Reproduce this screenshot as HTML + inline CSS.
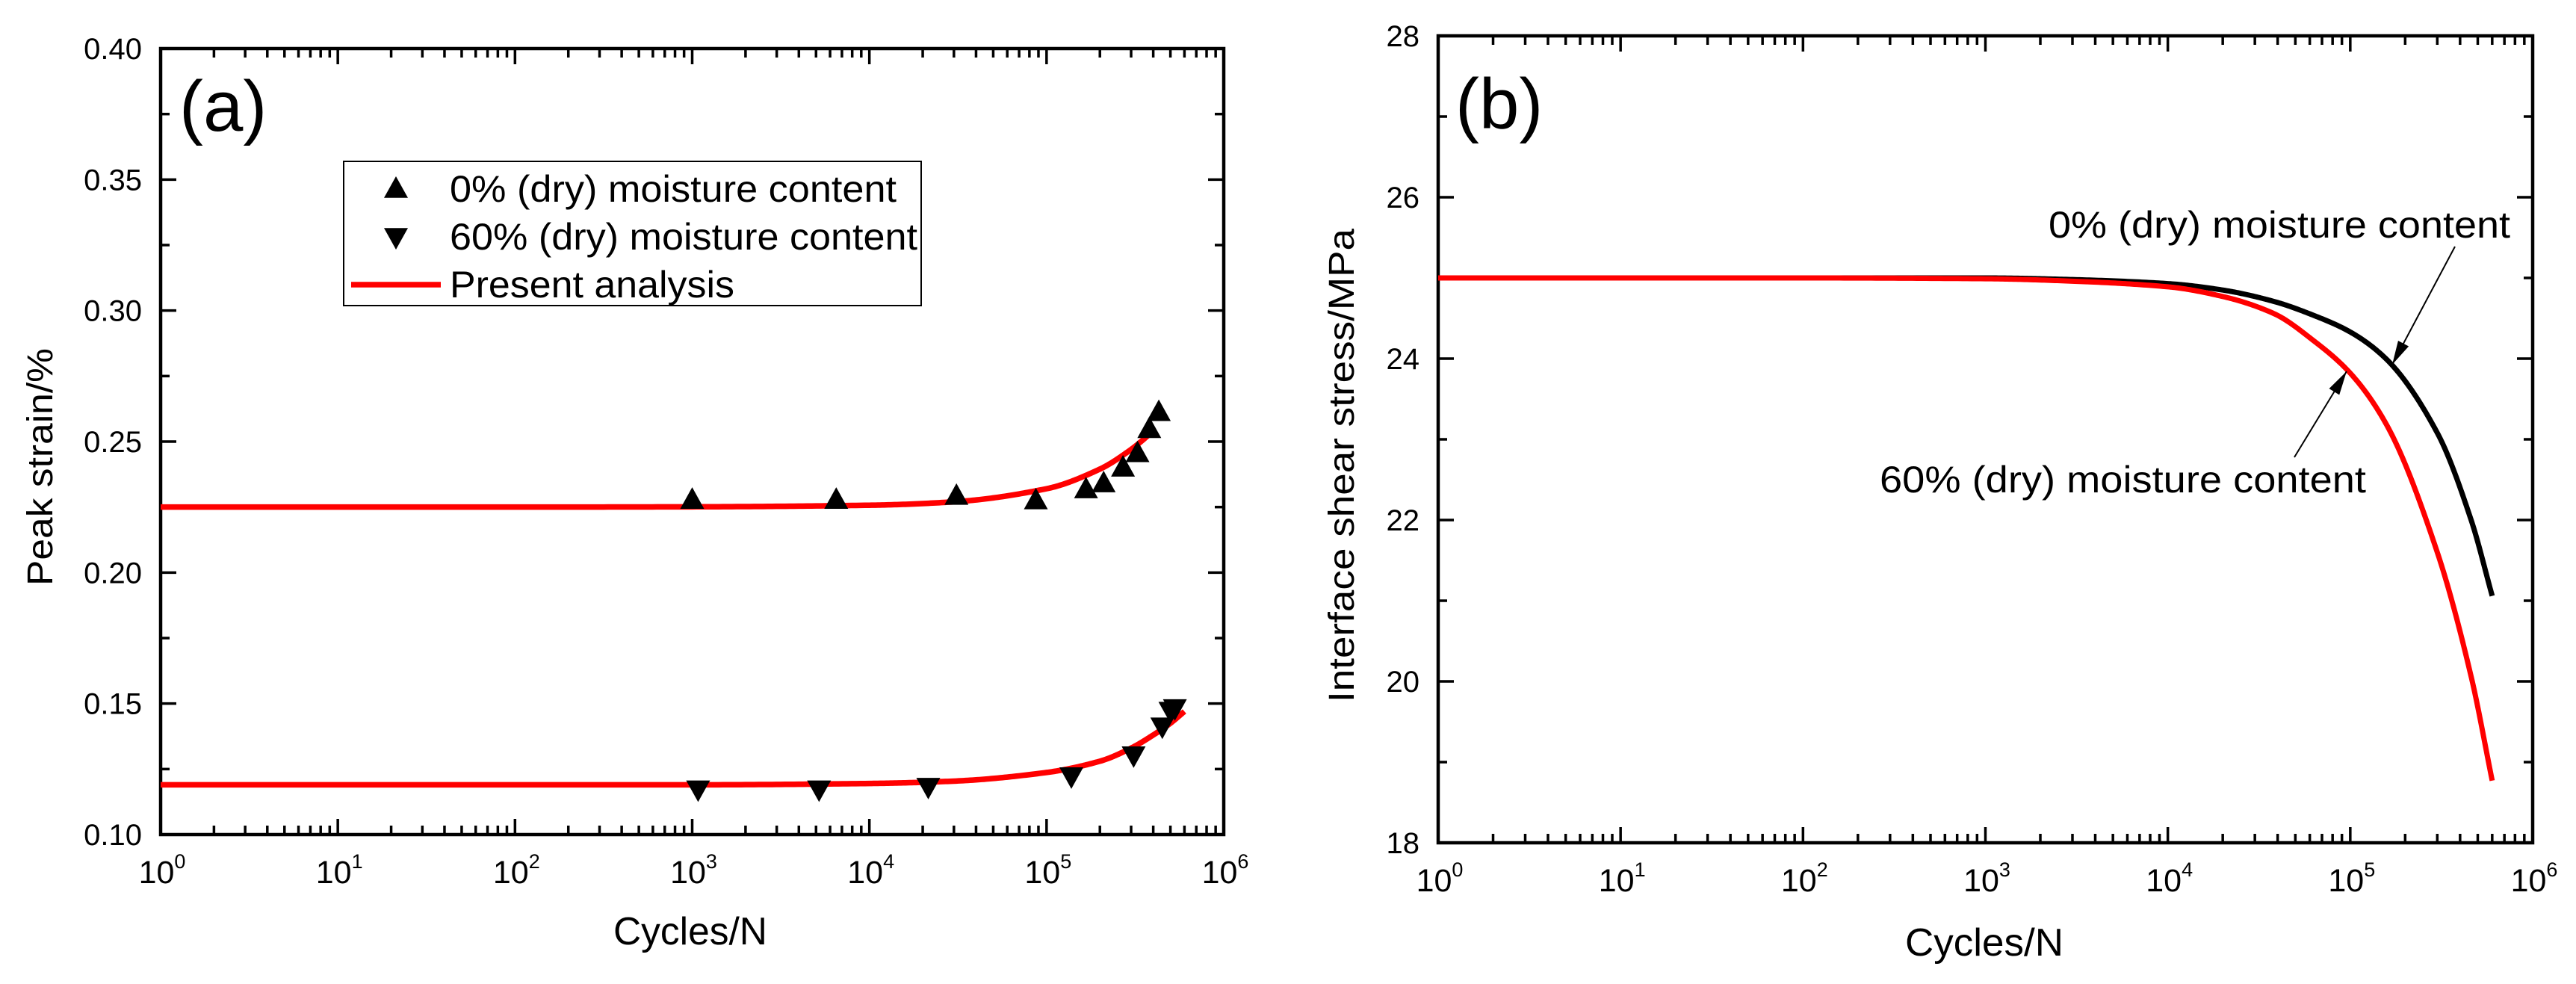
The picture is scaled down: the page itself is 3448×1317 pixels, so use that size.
<!DOCTYPE html>
<html><head><meta charset="utf-8"><style>
html,body{margin:0;padding:0;background:#fff;}
svg{display:block;font-family:"Liberation Sans",Arial,sans-serif;}
</style></head><body>
<svg id="chart" width="3448" height="1317" viewBox="0 0 3448 1317" xmlns="http://www.w3.org/2000/svg">
<rect width="3448" height="1317" fill="#fff"/>
<g id="pa"></g>
<g id="pb"></g>
</svg>
<script>
// ---- Panel (a) data ----
const upN = [1000, 6500, 31000, 87000, 167000, 210000, 270000, 326000, 380000, 430000];
const upY = [0.228, 0.228, 0.2295, 0.2278, 0.232, 0.2343, 0.2403, 0.2458, 0.255, 0.2615];
const dnN = [1080, 5200, 21500, 138000, 310000, 450000, 500000, 530000];
const dnY = [0.117, 0.117, 0.118, 0.122, 0.130, 0.141, 0.147, 0.148];
const fitUpN = [1, 100, 1000, 10000, 30000, 100000, 200000, 300000, 400000];
const fitUpY = [0.225, 0.225, 0.2251, 0.2257, 0.227, 0.232, 0.2395, 0.247, 0.254];
const fitDnN = [1, 100, 1000, 10000, 30000, 100000, 200000, 300000, 400000, 500000, 600000];
const fitDnY = [0.119, 0.119, 0.119, 0.1195, 0.1204, 0.1237, 0.128, 0.133, 0.138, 0.1425, 0.147];
const aYTicks = ["0.10","0.15","0.20","0.25","0.30","0.35","0.40"];
// ---- Panel (b) data ----
const bN = [1, 100, 1000, 3000, 10000, 20000, 38000, 64000, 100000, 160000, 300000, 460000, 600000];
const bDry = [25.0, 25.0, 25.0, 24.98, 24.93, 24.85, 24.71, 24.53, 24.33, 23.98, 23.08, 22.0, 21.06];
const bWet = [25.0, 25.0, 24.99, 24.96, 24.89, 24.77, 24.56, 24.21, 23.82, 23.16, 21.6, 20.06, 18.77];
const bYTicks = ["18","20","22","24","26","28"];
const xExps = ["0","1","2","3","4","5","6"];

const NS = "http://www.w3.org/2000/svg";
function mk(parent, tag, attrs, text) {
  const e = document.createElementNS(NS, tag);
  for (const k in attrs) e.setAttribute(k, attrs[k]);
  if (text !== undefined) e.textContent = text;
  parent.appendChild(e);
  return e;
}
// monotone cubic interpolation in (log10 N, y), sampled densely
function monoPath(nArr, yArr, xs, ys) {
  const X = nArr.map(v => Math.log10(v)), Y = yArr.slice(), n = X.length;
  const d = [], m = new Array(n);
  for (let i = 0; i < n - 1; i++) d.push((Y[i + 1] - Y[i]) / (X[i + 1] - X[i]));
  m[0] = d[0]; m[n - 1] = d[n - 2];
  for (let i = 1; i < n - 1; i++) m[i] = (d[i - 1] * d[i] <= 0) ? 0 : 2 / (1 / d[i - 1] + 1 / d[i]);
  let path = "";
  for (let i = 0; i < n - 1; i++) {
    const h = X[i + 1] - X[i];
    const steps = 40;
    for (let s = (i === 0 ? 0 : 1); s <= steps; s++) {
      const t = s / steps, t2 = t * t, t3 = t2 * t;
      const y = (2 * t3 - 3 * t2 + 1) * Y[i] + (t3 - 2 * t2 + t) * h * m[i] + (-2 * t3 + 3 * t2) * Y[i + 1] + (t3 - t2) * h * m[i + 1];
      const x = X[i] + t * h;
      const px = xs(Math.pow(10, x)), py = ys(y);
      path += (path ? " L" : "M") + px.toFixed(2) + "," + py.toFixed(2);
    }
  }
  return path;
}
function axes(g, L, R, T, B, ymin, ymax, ystep, yTicks, labelRight, name) {
  const xs = v => L + (R - L) * Math.log10(v) / 6;
  const ys = v => B - (B - T) * (v - ymin) / (ymax - ymin);
  const tk = mk(g, "g", {stroke: "#000", "stroke-width": 3.5});
  
  
  for (let d = 0; d < 6; d++) {
    for (let m = 1; m < 10; m++) {
      const x = xs(Math.pow(10, d) * m);
      const len = m === 1 ? 21 : 12;
      mk(tk, "line", {x1: x, y1: B, x2: x, y2: B - len});
      mk(tk, "line", {x1: x, y1: T, x2: x, y2: T + len});
    }
  }
  const n = yTicks.length;
  for (let i = 0; i < (n - 1) * 2 + 1; i++) {
    const v = ymin + i * ystep / 2;
    const y = ys(v);
    const len = i % 2 === 0 ? 21 : 12;
    mk(tk, "line", {x1: L, y1: y, x2: L + len, y2: y});
    mk(tk, "line", {x1: R, y1: y, x2: R - len, y2: y});
  }
  const fr = mk(g, "rect", {x: L, y: T, width: R - L, height: B - T, fill: "none", stroke: "#000", "stroke-width": 4.5});
  
  
  yTicks.forEach((t, i) => {
    const el = mk(g, "text", {x: labelRight, y: ys(ymin + i * ystep) + 14, "text-anchor": "end", "font-size": 40}, t);
    
    
  });
  xExps.forEach((e, i) => {
    const x = L + (R - L) * i / 6;
    const el = mk(g, "text", {x: x + 2, y: B + 65, "text-anchor": "middle", "font-size": 43});
    
    
    mk(el, "tspan", {}, "10");
    mk(el, "tspan", {"font-size": 27, dy: -20}, e);
  });
  return {xs, ys};
}
function tri(g, x, y, up, name) {
  const s = 16;
  const pts = up ? [[x, y - s], [x - s, y + s * 0.8], [x + s, y + s * 0.8]] : [[x, y + s], [x - s, y - s * 0.8], [x + s, y - s * 0.8]];
  const p = mk(g, "polygon", {points: pts.map(q => q.join(",")).join(" "), fill: "#000"});
  
  
}

// ---- Panel a ----
const ga = document.getElementById("pa");
const A = axes(ga, 215, 1638, 65, 1117, 0.10, 0.40, 0.05, aYTicks, 190, "a");
[[fitUpN, fitUpY, "fit-curve-dry"], [fitDnN, fitDnY, "fit-curve-wet"]].forEach(([nx, ny, nm]) => {
  const p = mk(ga, "path", {d: monoPath(nx, ny, A.xs, A.ys), fill: "none", stroke: "#ff0000", "stroke-width": 7.5, "stroke-linejoin": "round"});
  
  
});
upN.forEach((v, i) => tri(ga, A.xs(v), A.ys(upY[i]), true, "point-dry"));
dnN.forEach((v, i) => tri(ga, A.xs(v), A.ys(dnY[i]), false, "point-wet"));
let t = mk(ga, "text", {x: 240, y: 175, "font-size": 96}, "(a)");
 
const lg = mk(ga, "g", {});
 
mk(lg, "rect", {x: 460, y: 216, width: 773, height: 193, fill: "#fff", stroke: "#000", "stroke-width": 2});
tri(lg, 530, 252, true, "legend-marker-dry");
tri(lg, 530, 318, false, "legend-marker-wet");
mk(lg, "line", {x1: 470, y1: 381, x2: 590, y2: 381, stroke: "#ff0000", "stroke-width": 7.5});
t = mk(lg, "text", {x: 602, y: 270, "font-size": 50, textLength: 598, lengthAdjust: "spacingAndGlyphs"}, "0% (dry) moisture content");
 
t = mk(lg, "text", {x: 602, y: 334, "font-size": 50, textLength: 626, lengthAdjust: "spacingAndGlyphs"}, "60% (dry) moisture content");
 
t = mk(lg, "text", {x: 602, y: 398, "font-size": 50, textLength: 381, lengthAdjust: "spacingAndGlyphs"}, "Present analysis");
 
t = mk(ga, "text", {x: 0, y: 0, "font-size": 48, "text-anchor": "middle", transform: "translate(70,625) rotate(-90)", textLength: 318, lengthAdjust: "spacingAndGlyphs"}, "Peak strain/%");
 
t = mk(ga, "text", {x: 924, y: 1264, "font-size": 52, "text-anchor": "middle", textLength: 206, lengthAdjust: "spacingAndGlyphs"}, "Cycles/N");
 

// ---- Panel b ----
const gb = document.getElementById("pb");
const Bx = axes(gb, 1925, 3390, 48, 1128, 18, 28, 2, bYTicks, 1900, "b");
[[bDry, "#000", "curve-dry"], [bWet, "#ff0000", "curve-wet"]].forEach(([ser, col, nm]) => {
  const p = mk(gb, "path", {d: monoPath(bN, ser, Bx.xs, Bx.ys), fill: "none", stroke: col, "stroke-width": 7, "stroke-linejoin": "round"});
  
  
});
t = mk(gb, "text", {x: 1948, y: 172, "font-size": 96}, "(b)");
 
t = mk(gb, "text", {x: 2742, y: 318, "font-size": 50, textLength: 618, lengthAdjust: "spacingAndGlyphs"}, "0% (dry) moisture content");
 
t = mk(gb, "text", {x: 2516, y: 659, "font-size": 50, textLength: 651, lengthAdjust: "spacingAndGlyphs"}, "60% (dry) moisture content");
 
function arrow(x1, y1, x2, y2, nm) {
  const g = mk(gb, "g", {});
   
  mk(g, "line", {x1, y1, x2, y2, stroke: "#000", "stroke-width": 2});
  const a = Math.atan2(y2 - y1, x2 - x1), L = 32, W = 8;
  const bx = x2 - L * Math.cos(a), by = y2 - L * Math.sin(a);
  const px = -Math.sin(a) * W, py = Math.cos(a) * W;
  mk(g, "polygon", {points: `${x2},${y2} ${bx + px},${by + py} ${bx - px},${by - py}`, fill: "#000"});
}
arrow(3286, 330, 3202, 488, "arrow-dry");
arrow(3071, 612, 3141, 497, "arrow-wet");
t = mk(gb, "text", {x: 0, y: 0, "font-size": 48, "text-anchor": "middle", transform: "translate(1812,623) rotate(-90)", textLength: 634, lengthAdjust: "spacingAndGlyphs"}, "Interface shear stress/MPa");
 
t = mk(gb, "text", {x: 2656, y: 1279, "font-size": 52, "text-anchor": "middle", textLength: 212, lengthAdjust: "spacingAndGlyphs"}, "Cycles/N");
 
</script>
</body></html>
